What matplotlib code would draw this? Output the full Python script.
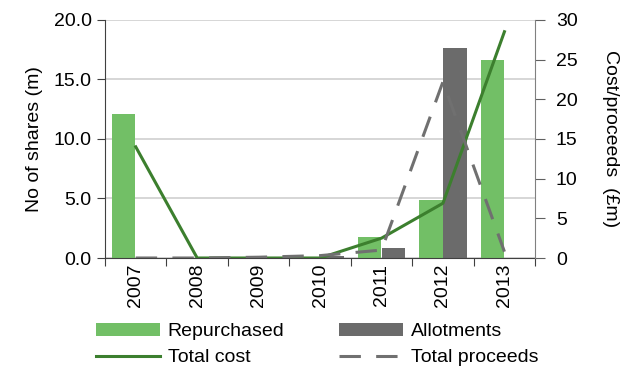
import matplotlib
matplotlib.use("Agg")
import matplotlib.pyplot as plt
import numpy as np
from matplotlib.lines import Line2D
from matplotlib.patches import Patch

plt.rcParams['font.family'] = ['Liberation Sans', 'DejaVu Sans']

years = ["2007", "2008", "2009", "2010", "2011", "2012", "2013"]
repurchased = [12.1, 0.0, 0.0, 0.0, 1.75, 4.85, 16.6]
allotments = [0.0, 0.0, 0.0, 0.2, 0.8, 17.6, 0.0]
total_cost = [14.0, 0.0, 0.0, 0.0, 2.5, 6.9, 28.5]
total_proceeds = [0.0, 0.0, 0.1, 0.3, 1.0, 22.2, 0.8]

green_bar = "#72BF66"
gray_bar = "#6B6B6B"
green_line = "#3C7F2E"
gray_line = "#707070"

fig = plt.figure(figsize=(6.27, 3.67), dpi=100)
ax = fig.add_axes([0.1675, 0.297, 0.686, 0.649])
ax2 = ax.twinx()

x = np.arange(len(years))
w = 0.38
ax.bar(x - w / 2 - 0.005, repurchased, width=w, color=green_bar, zorder=2)
ax.bar(x + w / 2 + 0.005, allotments, width=w, color=gray_bar, zorder=2)

ax2.plot(x, total_cost, color=green_line, lw=2.2, zorder=3)
ax2.plot(x, total_proceeds, color=gray_line, lw=2.2, dashes=(7, 5), zorder=3)

ax.set_xlim(-0.5, len(years) - 0.5)
ax.set_ylim(0, 20)
ax2.set_ylim(0, 30)
ax.set_yticks([0, 5, 10, 15, 20])
ax.set_yticklabels([f"{v:.1f}" for v in [0, 5, 10, 15, 20]])
ax2.set_yticks([0, 5, 10, 15, 20, 25, 30])

ax.set_xticks(np.arange(len(years) + 1) - 0.5, minor=False)
ax.set_xticklabels([])
ax.set_xticks(x, minor=True)
ax.set_xticklabels(years, minor=True, rotation=90)
ax.tick_params(axis="x", which="minor", length=0, labelsize=14, pad=4)
ax.tick_params(axis="x", which="major", length=6, direction="out", color="#404040")

ax.yaxis.grid(True, color="#D0D0D0", lw=1.2, zorder=0)
ax.set_axisbelow(True)
ax.tick_params(axis="y", labelsize=14, length=6, color="#404040")
ax2.tick_params(axis="y", labelsize=14, length=7, pad=8, color="#606060")

ax.spines["top"].set_visible(False)
ax2.spines["top"].set_visible(False)
ax2.spines["left"].set_visible(False)
ax2.spines["bottom"].set_visible(False)
ax.spines["right"].set_visible(False)
ax.spines["left"].set_color("#404040")
ax.spines["bottom"].set_color("#404040")
ax2.spines["right"].set_color("#808080")

ax.set_ylabel("No of shares (m)", fontsize=14, labelpad=8)
ax2.set_ylabel("Cost/proceeds  (£m)", fontsize=14, rotation=-90, labelpad=30)

handles = [
    Patch(facecolor=green_bar, label="Repurchased"),
    Line2D([0], [0], color=green_line, lw=2.2, label="Total cost"),
    Patch(facecolor=gray_bar, label="Allotments"),
    Line2D([0], [0], color=gray_line, lw=2.2, dashes=(7, 5), label="Total proceeds"),
]
fig.legend(handles=handles, ncol=2, loc="lower left", bbox_to_anchor=(0.125, -0.045),
           frameon=False, fontsize=14, handlelength=3.3, handleheight=0.6,
           columnspacing=2.8, labelspacing=0.45, handletextpad=0.4)

fig.savefig("out.png", dpi=100)
